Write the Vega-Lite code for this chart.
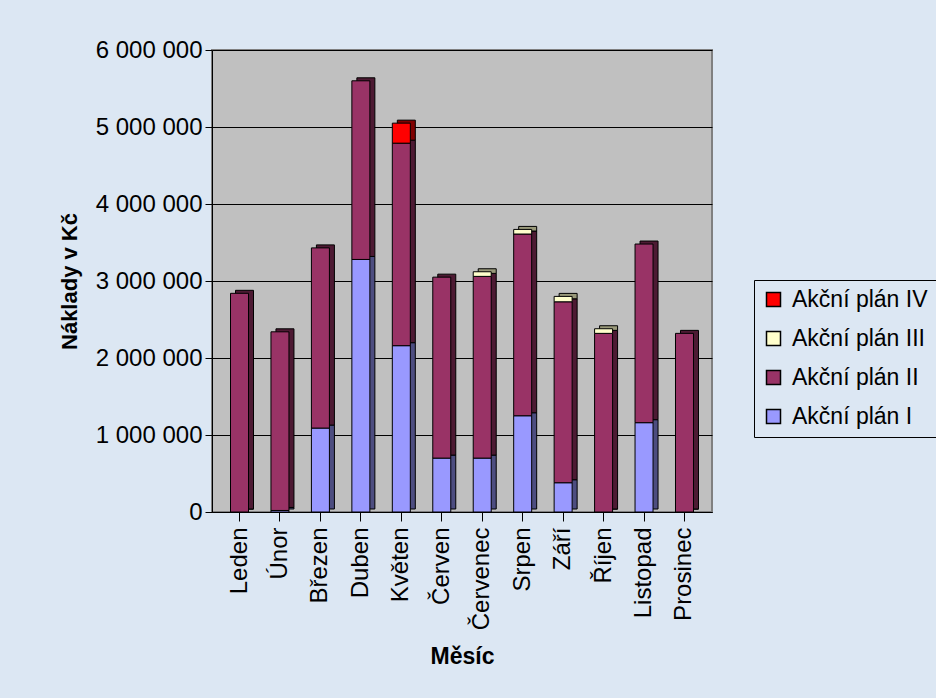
{
  "$schema": "https://vega.github.io/schema/vega-lite/v6.json",
  "autosize": "none",
  "width": 500,
  "height": 462,
  "padding": {"left": 212, "top": 50, "right": 224, "bottom": 186},
  "background": "#DCE7F3",
  "data": {
    "values": [
      {"mesic": "Leden", "plan": "Akční plán I", "naklady": 0},
      {"mesic": "Leden", "plan": "Akční plán II", "naklady": 2840000},
      {"mesic": "Únor", "plan": "Akční plán I", "naklady": 20000},
      {"mesic": "Únor", "plan": "Akční plán II", "naklady": 2320000},
      {"mesic": "Březen", "plan": "Akční plán I", "naklady": 1090000},
      {"mesic": "Březen", "plan": "Akční plán II", "naklady": 2340000},
      {"mesic": "Duben", "plan": "Akční plán I", "naklady": 3280000},
      {"mesic": "Duben", "plan": "Akční plán II", "naklady": 2320000},
      {"mesic": "Květen", "plan": "Akční plán I", "naklady": 2160000},
      {"mesic": "Květen", "plan": "Akční plán II", "naklady": 2630000},
      {"mesic": "Květen", "plan": "Akční plán IV", "naklady": 260000},
      {"mesic": "Červen", "plan": "Akční plán I", "naklady": 700000},
      {"mesic": "Červen", "plan": "Akční plán II", "naklady": 2350000},
      {"mesic": "Červenec", "plan": "Akční plán I", "naklady": 700000},
      {"mesic": "Červenec", "plan": "Akční plán II", "naklady": 2360000},
      {"mesic": "Červenec", "plan": "Akční plán III", "naklady": 60000},
      {"mesic": "Srpen", "plan": "Akční plán I", "naklady": 1250000},
      {"mesic": "Srpen", "plan": "Akční plán II", "naklady": 2360000},
      {"mesic": "Srpen", "plan": "Akční plán III", "naklady": 60000},
      {"mesic": "Září", "plan": "Akční plán I", "naklady": 380000},
      {"mesic": "Září", "plan": "Akční plán II", "naklady": 2350000},
      {"mesic": "Září", "plan": "Akční plán III", "naklady": 70000},
      {"mesic": "Říjen", "plan": "Akční plán I", "naklady": 0},
      {"mesic": "Říjen", "plan": "Akční plán II", "naklady": 2320000},
      {"mesic": "Říjen", "plan": "Akční plán III", "naklady": 60000},
      {"mesic": "Listopad", "plan": "Akční plán I", "naklady": 1160000},
      {"mesic": "Listopad", "plan": "Akční plán II", "naklady": 2320000},
      {"mesic": "Prosinec", "plan": "Akční plán I", "naklady": 0},
      {"mesic": "Prosinec", "plan": "Akční plán II", "naklady": 2320000}
    ]
  },
  "encoding": {
    "x": {
      "field": "mesic",
      "type": "nominal",
      "sort": ["Leden", "Únor", "Březen", "Duben", "Květen", "Červen", "Červenec", "Srpen", "Září", "Říjen", "Listopad", "Prosinec"],
      "scale": {"paddingInner": 0.5, "paddingOuter": 0.43},
      "axis": {
        "title": "Měsíc",
        "labelAngle": -90,
        "labelFontSize": 24,
        "titleFontSize": 23,
        "titleFontWeight": "bold",
        "titlePadding": 16,
        "labelPadding": 6,
        "tickSize": 9,
        "domainColor": "#000000",
        "tickColor": "#000000"
      }
    },
    "y": {
      "field": "naklady",
      "type": "quantitative",
      "stack": "zero",
      "scale": {"domain": [0, 6000000], "nice": false},
      "axis": {
        "title": "Náklady v Kč",
        "values": [0, 1000000, 2000000, 3000000, 4000000, 5000000, 6000000],
        "format": ",d",
        "labelFontSize": 24,
        "titleFontSize": 22,
        "titleFontWeight": "bold",
        "titlePadding": 14,
        "tickSize": 7,
        "labelPadding": 3,
        "domainColor": "#000000",
        "tickColor": "#000000",
        "gridColor": "#000000",
        "gridOpacity": 1
      }
    },
    "order": {"field": "plan", "sort": "ascending"}
  },
  "layer": [
    {
      "mark": {"type": "bar", "size": 18, "xOffset": 5, "yOffset": -3, "stroke": "#000000", "strokeWidth": 1},
      "encoding": {
        "color": {
          "field": "plan",
          "type": "nominal",
          "scale": {
            "domain": ["Akční plán IV", "Akční plán III", "Akční plán II", "Akční plán I"],
            "range": ["#800000", "#99997A", "#4D1A33", "#4D4D80"]
          },
          "legend": null
        }
      }
    },
    {
      "mark": {"type": "bar", "size": 18, "stroke": "#000000", "strokeWidth": 1},
      "encoding": {
        "color": {
          "field": "plan",
          "type": "nominal",
          "scale": {
            "domain": ["Akční plán IV", "Akční plán III", "Akční plán II", "Akční plán I"],
            "range": ["#FF0000", "#FFFFCC", "#993366", "#9999FF"]
          },
          "legend": {
            "title": null,
            "orient": "none",
            "legendX": 542,
            "legendY": 230,
            "symbolType": "square",
            "symbolSize": 196,
            "symbolStrokeColor": "#000000",
            "symbolStrokeWidth": 1.5,
            "labelFontSize": 23,
            "labelOffset": 7,
            "rowPadding": 15,
            "padding": 8,
            "strokeColor": "#000000",
            "labelLimit": 400
          }
        }
      }
    }
  ],
  "resolve": {"scale": {"color": "independent"}},
  "config": {
    "locale": {
      "number": {"decimal": ",", "thousands": " ", "grouping": [3], "currency": ["", " Kč"]}
    },
    "font": "Liberation Sans",
    "view": {"fill": "#C0C0C0", "stroke": "#808080", "strokeWidth": 2},
    "axis": {"labelColor": "#000000", "titleColor": "#000000", "labelFont": "Liberation Sans", "titleFont": "Liberation Sans"},
    "legend": {"labelColor": "#000000", "labelFont": "Liberation Sans"}
  }
}
